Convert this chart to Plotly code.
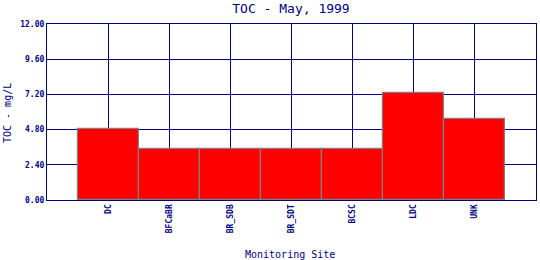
import plotly.graph_objects as go

sites = ["DC", "BFCaBR", "BR_SDB", "BR_SDT", "BCSC", "LDC", "UNK"]
toc = [4.85, 3.45, 3.45, 3.50, 3.50, 7.32, 5.55]
ytick_vals = [0, 2.4, 4.8, 7.2, 9.6, 12.0]
ytick_text = ["0.00", "2.40", "4.80", "7.20", "9.60", "12.00"]

NAVY = "#000080"
MONO = "DejaVu Sans Mono"
W, H = 540, 260
L, R, T, B = 47, 4, 24, 60
xpos = list(range(1, len(sites) + 1))

fig = go.Figure(go.Bar(
    x=xpos, y=toc, width=1.0,
    marker=dict(color="#ff0000", line=dict(color="#808080", width=1.2)),
))

fig.update_layout(
    width=W, height=H,
    margin=dict(l=L, r=R, t=T, b=B),
    paper_bgcolor="white", plot_bgcolor="white",
    showlegend=False,
    title=dict(text="TOC - May, 1999", x=291 / W, xanchor="center", y=1 - 8.5 / H, yanchor="middle",
               font=dict(family=MONO, size=13, color=NAVY)),
    bargap=0,
    annotations=[
        dict(text="Monitoring Site", xref="paper", yref="paper",
             x=(290 - L) / (W - L - R), y=-(254 - (H - B)) / (H - T - B),
             xanchor="center", yanchor="middle", showarrow=False,
             font=dict(family=MONO, size=10, color=NAVY)),
        dict(text="TOC - mg/L", xref="paper", yref="paper", textangle=-90,
             x=-(L - 8) / (W - L - R), y=((H - B) - 113) / (H - T - B),
             xanchor="center", yanchor="middle", showarrow=False,
             font=dict(family=MONO, size=10, color=NAVY)),
    ],
)
fig.update_xaxes(
    range=[0, len(sites) + 1], tickmode="array", tickvals=xpos, ticktext=sites,
    tickangle=-90, tickfont=dict(family=MONO, size=8, color=NAVY, weight="bold"),
    showgrid=True, gridcolor=NAVY, gridwidth=1.1,
    showline=True, linecolor=NAVY, linewidth=1.2, mirror=True,
    ticks="", zeroline=False,
)
fig.update_yaxes(
    range=[0, 12], tickmode="array", tickvals=ytick_vals, ticktext=ytick_text,
    tickfont=dict(family=MONO, size=8, color=NAVY, weight="bold"),
    showgrid=True, gridcolor=NAVY, gridwidth=1.1,
    showline=True, linecolor=NAVY, linewidth=1.2, mirror=True,
    ticks="", zeroline=False,
)

fig.write_html("out.html")
